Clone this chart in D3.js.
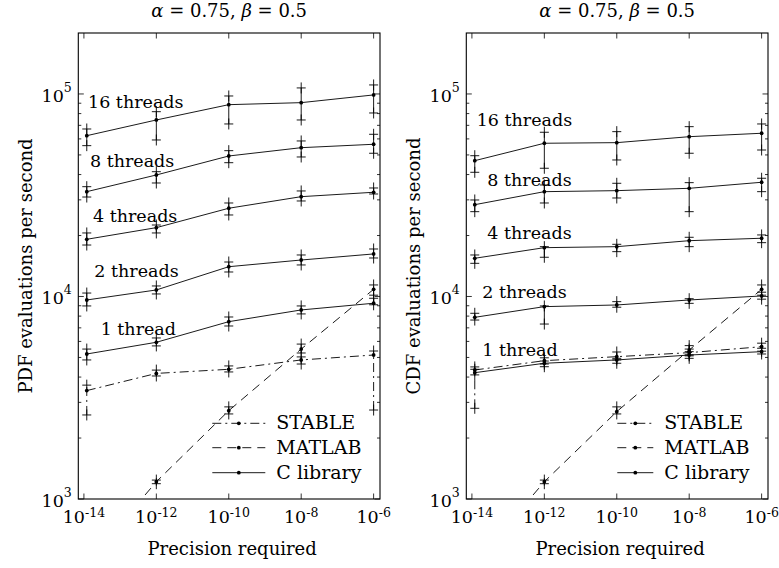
<!DOCTYPE html>
<html lang="en">
<head>
<meta charset="UTF-8">
<script src="https://d3js.org/d3.v7.min.js"></script>
<title>evaluations per second</title>
<style>
  body { margin: 0; background: #fff; }
  text { font-family: "DejaVu Serif", serif; fill: #000; }
</style>
</head>
<body>
<div id="chart"></div>
<script>
// Data: x = precision required, y = evaluations per second
const precision = [1.2e-14, 1e-12, 1e-10, 1e-8, 1e-6];
const threadNames = ["1 thread", "2 threads", "4 threads", "8 threads", "16 threads"];
const xTicks = [1e-14, 1e-12, 1e-10, 1e-8, 1e-6];
const yTicks = [1e3, 1e4, 1e5];
const legendNames = ["STABLE", "MATLAB", "C library"];

// PDF panel
const pdfThreads = [
  [5200, 5940, 7510, 8580, 9260],
  [9610, 10770, 14030, 15140, 16220],
  [19160, 21870, 27270, 31110, 32700],
  [32930, 39810, 49400, 54300, 56440],
  [62230, 74400, 88540, 90600, 98900]
];
const pdfThreadsLo = [
  [4860, 5700, 7150, 8200, 9100],
  [8980, 10290, 13210, 14310, 15490],
  [17950, 20590, 25260, 29620, 32070],
  [30980, 36340, 45770, 48850, 50960],
  [55560, 59270, 71100, 74400, 80560]
];
const pdfThreadsHi = [
  [5500, 6240, 7920, 8980, 9800],
  [10400, 11270, 14800, 16030, 17160],
  [20590, 22540, 28950, 33190, 34340],
  [34850, 41320, 52480, 58610, 63220],
  [67150, 81750, 97740, 107100, 110800]
];
const pdfStable = [3430, 4170, 4370, 4860, 5140];
const pdfStableLo = [2600, 4050, 4240, 4640, 2750];
const pdfStableHi = [3650, 4330, 4540, 5030, 5380];
const pdfMatlab = [480, 1217, 2730, 5500, 10850];
const pdfMatlabLo = [460, 1190, 2630, 5260, 10150];
const pdfMatlabHi = [500, 1240, 2850, 5820, 11400];
const pdfLabelX = [2.9e-14, 1.94e-14, 1.78e-14, 1.47e-14, 1.3e-14];
const pdfLabelY = [6450, 12530, 23400, 43750, 85300];

// CDF panel
const cdfThreads = [
  [4205, 4680, 4860, 5140, 5340],
  [7890, 8910, 9080, 9610, 10060],
  [15440, 17420, 17620, 18860, 19390],
  [28400, 32930, 33310, 34210, 36640],
  [46840, 57090, 57490, 61530, 63970]
];
const cdfThreadsLo = [
  [4100, 4500, 4680, 4950, 5200],
  [7650, 7310, 8850, 9250, 9700],
  [14580, 15620, 16650, 17620, 18440],
  [26230, 28950, 30640, 26230, 32930],
  [41040, 42970, 47210, 50960, 52880]
];
const cdfThreadsHi = [
  [4370, 4800, 4950, 5340, 5550],
  [8260, 8980, 9430, 9750, 10500],
  [16030, 17620, 18100, 19600, 20130],
  [29960, 35530, 36220, 36480, 38350],
  [49560, 64700, 65150, 68950, 71100]
];
const cdfStable = [4335, 4820, 5045, 5280, 5650];
const cdfStableLo = [2805, 4640, 4860, 5090, 5370];
const cdfStableHi = [4490, 4980, 5320, 5500, 5880];
const cdfMatlab = [480, 1217, 2700, 5440, 10850];
const cdfMatlabLo = [460, 1190, 2630, 5150, 10150];
const cdfMatlabHi = [500, 1240, 2850, 5720, 11400];
const cdfLabelX = [1.94e-14, 1.94e-14, 2.66e-14, 2.66e-14, 1.36e-14];
const cdfLabelY = [5085, 9800, 19160, 35130, 69500];

// Layout
const width = 779, height = 568;
const plotW = 301.7, plotH = 466, plotTop = 33;
const dashStable = "9,4,2,4";
const dashMatlab = "9,6";

const panels = [
  { left: 78.3, ylabel: "PDF evaluations per second",
    threads: pdfThreads, lo: pdfThreadsLo, hi: pdfThreadsHi,
    stable: [pdfStable, pdfStableLo, pdfStableHi], matlab: [pdfMatlab, pdfMatlabLo, pdfMatlabHi],
    labelX: pdfLabelX, labelY: pdfLabelY, legX: 134, legLen: 53 },
  { left: 466.3, ylabel: "CDF evaluations per second",
    threads: cdfThreads, lo: cdfThreadsLo, hi: cdfThreadsHi,
    stable: [cdfStable, cdfStableLo, cdfStableHi], matlab: [cdfMatlab, cdfMatlabLo, cdfMatlabHi],
    labelX: cdfLabelX, labelY: cdfLabelY, legX: 151, legLen: 36 }
];

const x = d3.scaleLog().domain([7e-15, 1.5e-6]).range([0, plotW]);
const y = d3.scaleLog().domain([1e3, 2e5]).range([plotH, 0]);

const svg = d3.select("#chart").append("svg")
  .attr("width", width)
  .attr("height", height);

svg.append("rect").attr("width", width).attr("height", height).attr("fill", "#fff");

const line = d3.line().x((d, i) => x(precision[i])).y(d => y(d));

function drawSeries(g, vals, lo, hi, dash) {
  g.append("path")
    .datum(vals)
    .attr("d", line)
    .attr("fill", "none")
    .attr("stroke", "#000")
    .attr("stroke-width", 0.9)
    .attr("stroke-dasharray", dash);

  // error bars: vertical line with "+" at min and max
  g.selectAll(null)
    .data(vals)
    .join("line")
    .attr("x1", (d, i) => x(precision[i]))
    .attr("x2", (d, i) => x(precision[i]))
    .attr("y1", (d, i) => y(lo[i]))
    .attr("y2", (d, i) => y(hi[i]))
    .attr("stroke", "#000")
    .attr("stroke-width", 0.9)
    .attr("stroke-dasharray", dash);

  const ends = [];
  vals.forEach((d, i) => { ends.push([precision[i], lo[i]]); ends.push([precision[i], hi[i]]); });
  g.selectAll(null)
    .data(ends)
    .join("path")
    .attr("transform", d => `translate(${x(d[0])},${y(d[1])})`)
    .attr("d", "M-4.5,0H4.5M0,-5.5V5.5")
    .attr("stroke", "#000")
    .attr("stroke-width", 0.9);

  g.selectAll(null)
    .data(vals)
    .join("circle")
    .attr("cx", (d, i) => x(precision[i]))
    .attr("cy", d => y(d))
    .attr("r", 1.9)
    .attr("fill", "#000");
}

panels.forEach((p, k) => {
  const g = svg.append("g").attr("transform", `translate(${p.left},${plotTop})`);

  const clipId = "clip" + k;
  g.append("clipPath").attr("id", clipId)
    .append("rect").attr("width", plotW).attr("height", plotH);

  // Title
  const title = g.append("text")
    .attr("x", plotW / 2)
    .attr("y", -16)
    .attr("text-anchor", "middle")
    .attr("font-size", 18);
  title.append("tspan").attr("font-style", "italic").text("α");
  title.append("tspan").text(" = 0.75,  ");
  title.append("tspan").attr("font-style", "italic").text("β");
  title.append("tspan").text(" = 0.5");

  // Y minor + major ticks (inward, both sides)
  const minor = [];
  [1e3, 1e4, 1e5].forEach(b => { for (let m = 2; m <= 9; m++) if (b * m < 2e5) minor.push(b * m); });
  g.selectAll(null).data(minor).join("path")
    .attr("d", d => `M0,${y(d)}h3M${plotW},${y(d)}h-3`)
    .attr("stroke", "#000").attr("stroke-width", 0.8);
  g.selectAll(null).data(yTicks).join("path")
    .attr("d", d => `M0,${y(d)}h5.5M${plotW},${y(d)}h-5.5`)
    .attr("stroke", "#000").attr("stroke-width", 0.8);
  g.selectAll(null).data(xTicks).join("path")
    .attr("d", d => `M${x(d)},${plotH}v-5.5M${x(d)},0v5.5`)
    .attr("stroke", "#000").attr("stroke-width", 0.8);

  // Y tick labels
  const yl = g.selectAll(null).data(yTicks).join("text")
    .attr("x", -6.5)
    .attr("y", d => y(d) + 8)
    .attr("text-anchor", "end")
    .attr("font-size", 17.5);
  yl.append("tspan").text("10");
  yl.append("tspan").attr("font-size", 12.5).attr("dy", -10).text(d => Math.round(Math.log10(d)));

  // X tick labels
  const xl = g.selectAll(null).data(xTicks).join("text")
    .attr("x", d => x(d))
    .attr("y", plotH + 24)
    .attr("text-anchor", "middle")
    .attr("font-size", 17.5);
  xl.append("tspan").text("10");
  xl.append("tspan").attr("font-size", 12.5).attr("dy", -6).text(d => Math.round(Math.log10(d)));

  // Axis labels
  g.append("text")
    .attr("x", plotW / 2 + 3)
    .attr("y", plotH + 56)
    .attr("text-anchor", "middle")
    .attr("font-size", 18)
    .text("Precision required");
  g.append("text")
    .attr("transform", `translate(-46,${plotH / 2}) rotate(-90)`)
    .attr("text-anchor", "middle")
    .attr("font-size", 18)
    .text(p.ylabel);

  // Series
  const data = g.append("g").attr("clip-path", `url(#${clipId})`);
  drawSeries(data, p.matlab[0], p.matlab[1], p.matlab[2], dashMatlab);
  drawSeries(data, p.stable[0], p.stable[1], p.stable[2], dashStable);
  p.threads.forEach((s, i) => drawSeries(data, s, p.lo[i], p.hi[i], null));

  // Thread labels
  g.selectAll(null).data(threadNames).join("text")
    .attr("x", (d, i) => x(p.labelX[i]))
    .attr("y", (d, i) => y(p.labelY[i]))
    .attr("font-size", 17.5)
    .text(d => d);

  // Legend
  const legDash = [dashStable, dashMatlab, null];
  const legY = [390.3, 414.7, 439.7];
  const leg = g.append("g");
  legendNames.forEach((name, i) => {
    leg.append("line")
      .attr("x1", p.legX).attr("x2", p.legX + p.legLen)
      .attr("y1", legY[i]).attr("y2", legY[i])
      .attr("stroke", "#000").attr("stroke-width", 0.9)
      .attr("stroke-dasharray", legDash[i]);
    leg.append("circle")
      .attr("cx", p.legX + p.legLen / 2).attr("cy", legY[i])
      .attr("r", 1.9).attr("fill", "#000");
    leg.append("text")
      .attr("x", p.legX + p.legLen + 11)
      .attr("y", legY[i] + 6)
      .attr("font-size", 19)
      .text(name);
  });

  // Box
  g.append("rect")
    .attr("width", plotW).attr("height", plotH)
    .attr("fill", "none").attr("stroke", "#000").attr("stroke-width", 1.1);
});
</script>
</body>
</html>
